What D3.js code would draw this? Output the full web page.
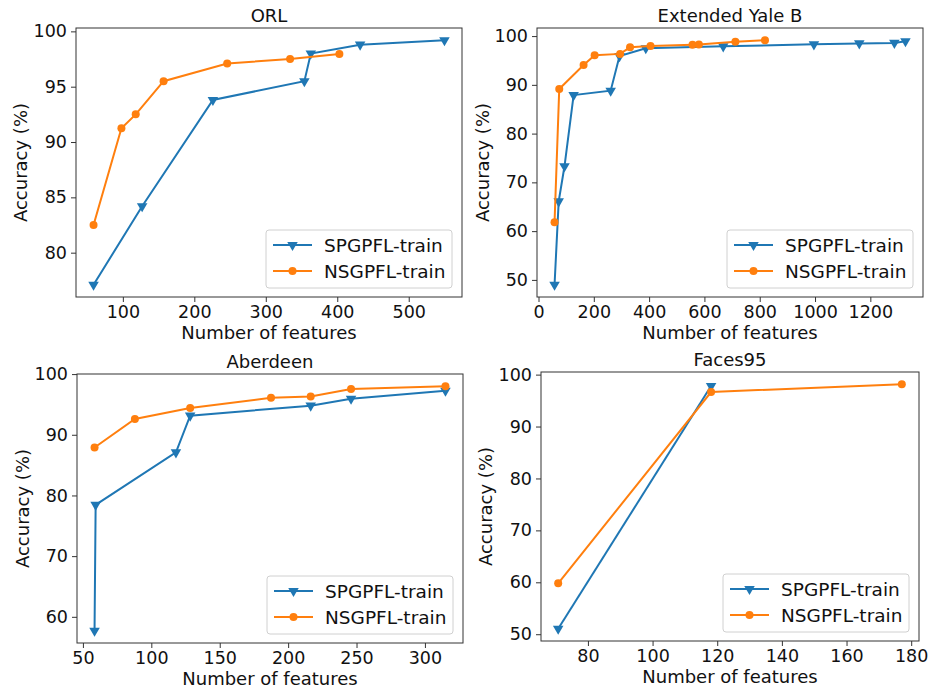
<!DOCTYPE html>
<html>
<head>
<meta charset="utf-8">
<script src="https://cdn.jsdelivr.net/npm/d3@7"></script>
<style>
  body { margin: 0; background: #fff; }
  svg { font-family: "DejaVu Sans", sans-serif; }
</style>
</head>
<body>
<svg id="chart" width="930" height="689"></svg>
<script>
// ---------- DATA ----------
const titles = ["ORL", "Extended Yale B", "Aberdeen", "Faces95"];
const seriesNames = ["SPGPFL-train", "NSGPFL-train"];

const orlSpX = [59, 127, 226, 354, 363, 432, 550];
const orlSpY = [77.1, 84.2, 93.8, 95.5, 98.0, 98.8, 99.2];
const orlNsX = [59, 98, 118, 157, 246, 334, 403];
const orlNsY = [82.5, 91.25, 92.5, 95.5, 97.1, 97.5, 97.95];

const yaleSpX = [58, 73, 94, 127, 261, 293, 388, 668, 996, 1160, 1287, 1327];
const yaleSpY = [49.0, 66.1, 73.3, 87.9, 88.8, 95.9, 97.5, 97.9, 98.3, 98.5, 98.6, 98.95];
const yaleNsX = [58, 75, 163, 203, 295, 331, 405, 557, 580, 712, 819];
const yaleNsY = [61.8, 89.15, 94.05, 96.05, 96.35, 97.7, 97.95, 98.2, 98.25, 98.85, 99.15];

const aberSpX = [58.5, 59.3, 118, 128.4, 216.5, 246, 315];
const aberSpY = [57.7, 78.45, 87.1, 93.15, 94.8, 95.95, 97.25];
const aberNsX = [58.5, 88, 128.4, 187.5, 216.5, 246, 315];
const aberNsY = [87.9, 92.6, 94.4, 96.1, 96.3, 97.55, 98.0];

const facesSpX = [70.8, 118.1];
const facesSpY = [51.05, 97.8];
const facesNsX = [70.8, 118.1, 177.1];
const facesNsY = [59.8, 96.65, 98.15];

const orlXTicks = [100, 200, 300, 400, 500];
const orlYTicks = [80, 85, 90, 95, 100];
const yaleXTicks = [0, 200, 400, 600, 800, 1000, 1200];
const yaleYTicks = [50, 60, 70, 80, 90, 100];
const aberXTicks = [50, 100, 150, 200, 250, 300];
const aberYTicks = [60, 70, 80, 90, 100];
const facesXTicks = [80, 100, 120, 140, 160, 180];
const facesYTicks = [50, 60, 70, 80, 90, 100];

const xLabel = "Number of features";
const yLabel = "Accuracy (%)";

// ---------- LAYOUT ----------
const panels = [
  { title: titles[0], sx: orlSpX, sy: orlSpY, nx: orlNsX, ny: orlNsY, xt: orlXTicks, yt: orlYTicks,
    box: { l: 76, r: 462, t: 28, b: 297 }, ylx: 20 },
  { title: titles[1], sx: yaleSpX, sy: yaleSpY, nx: yaleNsX, ny: yaleNsY, xt: yaleXTicks, yt: yaleYTicks,
    box: { l: 537, r: 923, t: 28, b: 297 }, ylx: 482 },
  { title: titles[2], sx: aberSpX, sy: aberSpY, nx: aberNsX, ny: aberNsY, xt: aberXTicks, yt: aberYTicks,
    box: { l: 77, r: 463, t: 374, b: 643 }, ylx: 22 },
  { title: titles[3], sx: facesSpX, sy: facesSpY, nx: facesNsX, ny: facesNsY, xt: facesXTicks, yt: facesYTicks,
    box: { l: 541, r: 919, t: 372, b: 641 }, ylx: 485 }
];

const colors = ["#1f77b4", "#ff7f0e"];
const svg = d3.select("#chart");

function padded(vals) {
  const [mn, mx] = d3.extent(vals);
  const p = (mx - mn) * 0.05;
  return [mn - p, mx + p];
}

const triDown = d3.symbol().type(d3.symbolTriangle).size(48);

panels.forEach(p => {
  const B = p.box;
  const x = d3.scaleLinear().domain(padded(p.sx.concat(p.nx))).range([B.l, B.r]);
  const y = d3.scaleLinear().domain(padded(p.sy.concat(p.ny))).range([B.b, B.t]);
  const g = svg.append("g");

  // axes
  const xAxis = d3.axisBottom(x).tickValues(p.xt).tickSize(5).tickPadding(4).tickFormat(d3.format("d"));
  const yAxis = d3.axisLeft(y).tickValues(p.yt).tickSize(5).tickPadding(4).tickFormat(d3.format("d"));
  const gx = g.append("g").attr("transform", `translate(0,${B.b})`).call(xAxis);
  const gy = g.append("g").attr("transform", `translate(${B.l},0)`).call(yAxis);
  [gx, gy].forEach(a => {
    a.select(".domain").remove();
    a.selectAll(".tick line").attr("stroke", "#333").attr("stroke-width", 1);
    a.selectAll(".tick text").attr("fill", "#111").style("font-size", "17.5px")
      .style("font-family", "DejaVu Sans, sans-serif");
  });

  // series
  const series = [
    { xs: p.sx, ys: p.sy, c: colors[0], m: "tri" },
    { xs: p.nx, ys: p.ny, c: colors[1], m: "circ" }
  ];
  const line = d3.line().x(d => x(d[0])).y(d => y(d[1]));
  series.forEach(s => {
    const pts = s.xs.map((v, i) => [v, s.ys[i]]);
    g.append("path").datum(pts).attr("d", line).attr("fill", "none")
      .attr("stroke", s.c).attr("stroke-width", 2);
    if (s.m === "circ") {
      g.selectAll(null).data(pts).enter().append("circle")
        .attr("cx", d => x(d[0])).attr("cy", d => y(d[1])).attr("r", 4).attr("fill", s.c);
    } else {
      g.selectAll(null).data(pts).enter().append("path")
        .attr("d", triDown)
        .attr("transform", d => `translate(${x(d[0])},${y(d[1])}) rotate(180)`)
        .attr("fill", s.c);
    }
  });

  // frame
  g.append("rect").attr("x", B.l).attr("y", B.t).attr("width", B.r - B.l).attr("height", B.b - B.t)
    .attr("fill", "none").attr("stroke", "#333").attr("stroke-width", 1);

  // title & labels
  g.append("text").attr("x", (B.l + B.r) / 2).attr("y", B.t - 6).attr("text-anchor", "middle")
    .style("font-size", "18px").attr("fill", "#111").text(p.title);
  g.append("text").attr("x", (B.l + B.r) / 2).attr("y", B.b + 42).attr("text-anchor", "middle")
    .style("font-size", "18px").attr("fill", "#111").text(xLabel);
  g.append("text").attr("transform", `translate(${p.ylx},${(B.t + B.b) / 2}) rotate(-90)`)
    .attr("text-anchor", "middle").attr("dominant-baseline", "central")
    .style("font-size", "18px").attr("fill", "#111").text(yLabel);

  // legend
  const lw = 186, lh = 58;
  const lx = B.r - 10 - lw, ly = B.b - 9 - lh;
  const lg = g.append("g").attr("transform", `translate(${lx},${ly})`);
  lg.append("rect").attr("width", lw).attr("height", lh).attr("rx", 3)
    .attr("fill", "rgba(255,255,255,0.8)").attr("stroke", "#d0d0d0").attr("stroke-width", 1);
  seriesNames.forEach((name, i) => {
    const cy = 15 + i * 26;
    lg.append("line").attr("x1", 7).attr("x2", 46).attr("y1", cy).attr("y2", cy)
      .attr("stroke", colors[i]).attr("stroke-width", 2);
    if (i === 0) {
      lg.append("path").attr("d", triDown).attr("transform", `translate(26.5,${cy}) rotate(180)`).attr("fill", colors[i]);
    } else {
      lg.append("circle").attr("cx", 26.5).attr("cy", cy).attr("r", 4).attr("fill", colors[i]);
    }
    lg.append("text").attr("x", 58).attr("y", cy).attr("dominant-baseline", "central")
      .style("font-size", "18.5px").attr("fill", "#111").text(name);
  });
});
</script>
</body>
</html>
